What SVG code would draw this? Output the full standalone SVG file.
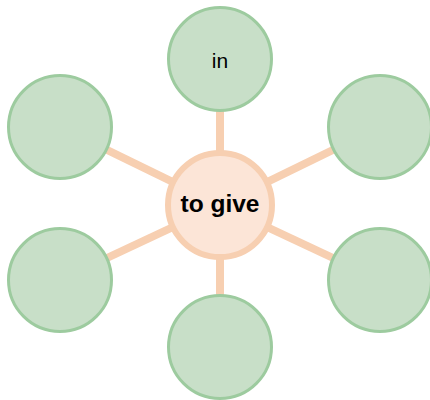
<svg xmlns="http://www.w3.org/2000/svg" width="430" height="400" viewBox="0 0 430 400">
<style>
.leaf{fill:#c8dfc8;stroke:#9dcb9f;stroke-width:3}
.hub{fill:#fce5d7;stroke:#f7cfb1;stroke-width:6}
.conn{stroke:#f7cfb1;stroke-width:8;stroke-linecap:butt}
text{font-family:"Liberation Sans",Arial,sans-serif;fill:#000;text-anchor:middle}
</style>
<rect width="430" height="400" fill="#fff"/>
<g id="connectors">
<line class="conn" x1="220" y1="205" x2="220" y2="59"/>
<line class="conn" x1="220" y1="205" x2="60" y2="127"/>
<line class="conn" x1="220" y1="205" x2="380" y2="127"/>
<line class="conn" x1="220" y1="205" x2="60" y2="280"/>
<line class="conn" x1="220" y1="205" x2="380" y2="280"/>
<line class="conn" x1="220" y1="205" x2="220" y2="347"/>
</g>
<g id="n-top"><circle class="leaf" cx="220" cy="59" r="51.5"/><text x="220" y="67.5" font-size="21">in</text></g>
<g id="n-tl"><circle class="leaf" cx="60" cy="127" r="51.5"/></g>
<g id="n-tr"><circle class="leaf" cx="380" cy="127" r="51.5"/></g>
<g id="n-bl"><circle class="leaf" cx="60" cy="280" r="51.5"/></g>
<g id="n-br"><circle class="leaf" cx="380" cy="280" r="51.5"/></g>
<g id="n-bottom"><circle class="leaf" cx="220" cy="347" r="51.5"/></g>
<g id="n-center"><circle class="hub" cx="220" cy="205" r="52"/><text x="220" y="212" font-size="24.5" font-weight="bold">to give</text></g>
</svg>
